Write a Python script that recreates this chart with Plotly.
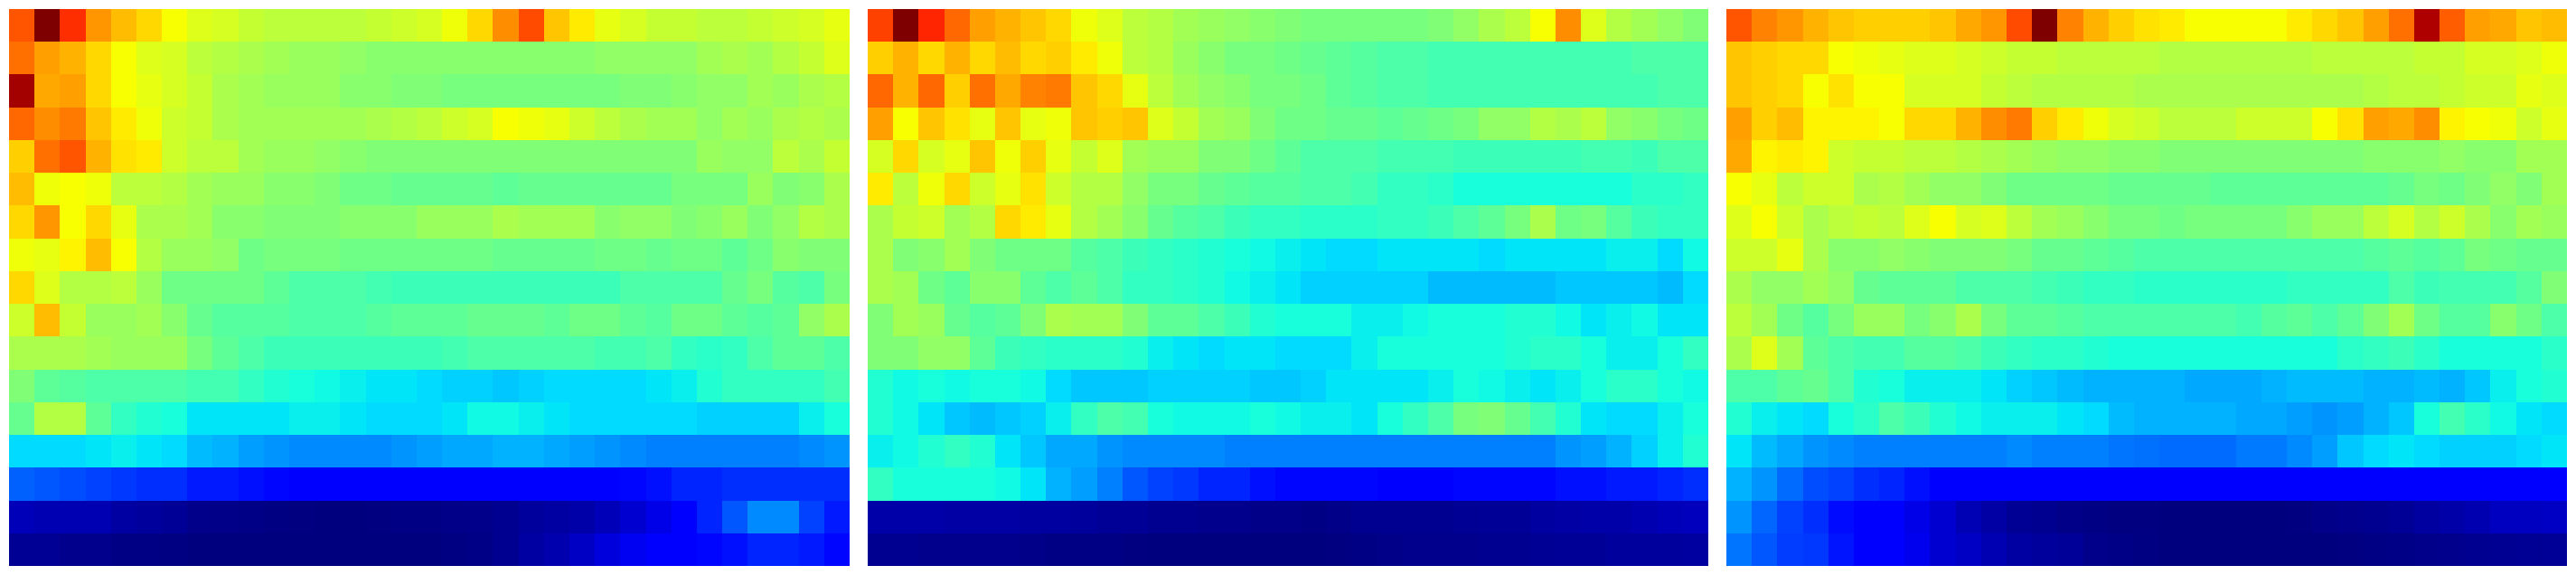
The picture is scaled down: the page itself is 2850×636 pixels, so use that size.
import plotly.graph_objects as go

panel_a = [
[82,100,86,75,71,68,64,61,60,58,57,57,57,57,58,59,60,63,68,76,83,70,66,62,60,58,58,57,57,58,59,60,62],
[79,74,72,68,64,61,60,57,56,55,54,53,53,52,51,51,51,51,51,51,51,51,51,52,52,52,52,54,55,54,56,58,61],
[97,73,74,68,64,62,60,58,55,54,53,53,53,51,51,50,50,49,49,49,49,49,49,49,50,50,51,52,52,54,53,55,56],
[80,76,78,70,66,63,59,58,55,54,54,54,54,54,55,56,57,59,60,64,63,62,59,57,55,54,54,52,54,53,55,56,55],
[69,79,82,72,67,66,59,57,57,54,53,53,52,51,50,50,50,50,50,50,50,50,50,50,50,50,50,53,52,52,57,55,58],
[71,63,64,63,57,57,56,54,53,53,51,51,50,48,48,47,47,47,47,46,47,47,47,47,47,47,49,49,49,53,50,51,55],
[68,75,64,68,62,55,55,54,51,51,50,50,50,51,51,51,53,53,53,55,54,54,54,51,52,52,50,51,53,50,52,56,55],
[63,62,65,71,64,56,53,53,52,48,49,49,49,48,48,48,48,48,48,47,47,47,47,48,48,47,48,48,46,48,51,50,50],
[68,61,56,56,57,53,48,48,48,48,46,44,44,44,43,42,42,42,42,42,42,42,42,42,44,44,44,44,47,49,45,44,49],
[59,71,58,53,53,54,51,47,45,45,45,44,44,44,45,46,46,46,47,47,47,46,48,48,46,45,48,48,46,45,46,52,55],
[55,55,55,54,53,53,53,49,46,44,42,42,42,42,42,42,42,43,44,44,44,44,44,43,43,44,41,40,41,44,46,46,44],
[50,46,45,44,44,44,44,43,43,41,39,38,37,36,35,35,34,33,33,32,33,34,34,34,34,35,36,39,41,41,41,41,43],
[47,56,56,46,41,39,38,35,35,35,35,36,36,35,34,34,34,35,37,37,36,35,34,34,34,34,34,33,33,33,33,36,38],
[34,34,34,35,36,35,34,31,30,28,27,26,26,26,26,27,28,29,29,30,30,29,28,27,26,25,25,25,25,25,25,26,27],
[22,21,20,19,18,17,17,15,15,14,13,12,12,12,12,12,12,12,12,12,12,12,12,12,13,14,16,16,17,17,17,17,17],
[5,4.5,4.5,4.5,3,2.5,2,1,.8,.6,.3,.2,0,0,.2,.4,.5,.8,1,1.5,2.5,3,3.5,5,7,9,11,16,21,26,26,19,15],
[1.8,1.8,1.2,1.2,.5,.5,.3,0,0,0,0,0,0,0,0,0,0,.3,.6,1.5,3,4,6,8,10,12,12,13,14,16,16,15,13],
]

panel_b = [
[84,100,87,80,74,72,70,68,63,61,57,56,54,53,52,51,50,49,49,49,49,49,50,52,55,57,64,76,61,56,54,52,50],
[69,72,68,72,68,71,68,69,66,63,57,56,53,51,49,49,48,47,46,45,44,44,43,43,43,43,43,43,43,43,44,44,44],
[80,72,80,69,79,73,77,78,70,68,62,57,54,52,51,49,49,48,46,45,44,44,43,43,43,43,43,43,43,43,43,44,44],
[74,64,70,67,62,70,62,63,70,69,70,61,58,54,53,50,48,48,47,47,46,47,48,49,52,52,56,55,57,52,51,49,48],
[60,68,60,62,70,63,69,62,58,61,54,53,53,50,50,48,46,44,44,44,43,43,43,42,42,42,42,42,43,43,42,44,44],
[66,57,63,68,59,62,67,59,56,56,52,49,49,47,46,45,45,44,44,43,41,41,40,38,38,38,38,38,38,38,40,40,41],
[55,58,59,54,56,68,66,62,56,54,51,47,45,44,42,41,41,40,40,40,41,41,42,44,46,49,55,48,49,45,42,41,41],
[55,50,51,54,50,48,48,48,45,44,42,41,40,39,38,37,36,35,34,34,35,35,35,35,34,35,35,35,35,36,36,34,37],
[55,54,48,46,51,51,46,44,46,44,41,41,40,39,37,36,35,33,33,33,33,33,31,31,31,31,31,32,32,32,32,31,34],
[50,54,53,47,45,46,50,55,54,54,50,46,46,44,42,39,38,38,38,36,36,37,38,38,38,39,39,37,35,36,37,35,35],
[50,50,52,52,46,42,41,40,40,40,39,36,35,34,35,35,34,34,34,36,38,38,38,38,38,39,40,40,38,36,36,38,41],
[39,37,38,37,38,38,37,34,32,32,32,33,33,33,33,32,32,33,35,35,35,35,36,38,37,36,35,36,38,40,40,38,37],
[39,37,35,32,31,32,33,36,41,44,43,38,37,37,37,38,37,36,36,35,38,41,44,49,50,47,43,39,35,34,34,36,38],
[36,37,39,41,39,35,32,29,29,27,26,26,26,26,25,25,25,25,25,25,25,25,25,25,25,25,25,27,28,30,33,36,39],
[41,38,38,38,38,37,35,30,28,25,21,19,18,16,16,14,13,13,13,13,12.5,12.5,12.5,13,13,13,13,14,14,15,15,16,17],
[3.5,3.5,3.5,3.2,3.2,3.2,2.8,2.8,2.5,2.1,2.1,1.5,1.5,1.1,1.1,.8,.8,.4,.8,1.5,1.5,1.5,1.5,1.8,2.1,2.1,2.8,3.2,3.5,3.5,4.2,4.9,5.3],
[1.5,1.5,1.1,1.1,1.1,1.1,.8,.4,.4,.4,.1,0,0,0,0,0,0,0,.2,.5,.8,1.1,1.1,1.1,1.5,1.5,1.8,2.1,2.1,2.5,2.5,2.5,2.8],
]

panel_c = [
[82,77,75,72,70,69,69,69,70,73,75,83,100,77,72,69,67,66,64,64,64,64,66,68,70,74,79,96,81,74,73,70,71],
[70,69,68,68,64,63,62,61,61,60,59,58,58,57,57,57,57,56,56,56,56,56,56,57,57,57,57,58,58,60,60,61,63],
[70,69,68,64,67,64,64,60,60,60,58,57,56,56,56,56,55,55,55,55,55,55,55,55,55,56,57,57,58,59,59,62,61],
[74,69,71,65,65,65,64,68,68,72,76,78,69,66,63,60,59,57,57,57,59,59,59,64,67,74,73,76,65,64,63,59,62],
[73,65,66,65,59,58,58,57,57,56,55,54,53,52,52,51,51,50,50,50,50,50,50,50,50,51,51,51,52,51,51,54,54],
[64,62,57,59,59,55,56,54,52,52,50,48,48,48,48,47,47,47,47,46,46,46,46,46,46,46,47,49,48,50,52,50,54],
[61,64,59,55,57,58,57,61,64,60,61,57,54,53,51,49,49,48,49,49,49,49,51,53,53,57,60,56,59,55,51,54,53],
[59,59,62,55,51,51,52,51,50,50,50,49,47,47,46,45,44,44,44,44,44,44,44,44,44,45,46,45,46,49,48,47,47],
[55,52,52,54,52,47,46,46,46,44,44,44,43,42,41,41,40,40,40,40,40,40,41,41,41,41,44,42,43,43,43,45,50],
[57,54,48,45,49,53,53,49,51,55,49,46,46,45,44,44,44,44,44,44,43,45,46,44,46,50,54,48,45,45,51,48,44],
[55,61,54,46,44,43,43,45,45,44,42,41,40,40,39,38,38,38,38,38,38,38,38,38,40,41,42,40,38,38,38,38,40],
[44,44,46,47,44,39,38,36,36,36,35,33,32,31,30,30,30,30,29,29,29,30,31,31,31,30,30,31,30,32,36,38,39],
[39,36,35,34,38,40,44,42,39,37,36,36,36,35,34,31,30,30,30,30,29,29,28,27,28,30,32,38,43,40,37,35,34],
[35,31,29,27,26,25,25,25,25,25,25,26,25,25,25,24,23.5,23,23,23,24.5,24.5,26,28,32,34,35,34,33,33,33,34,35],
[30,27,23,20,19,17,16,14,12.5,12,12,12,12,12,12,12,12,12,12,12,12,12,12,12,12,12,12,12,12,12,11.5,11.5,11.5],
[27,22.5,19,17,13.5,12,12,9,7,4.6,3.2,1.8,1.5,.8,.4,.2,.1,0,0,0,0,0,.2,.8,1.1,1.5,2.1,2.8,3.5,4.2,5.6,5.6,6],
[24,21,18.5,18,14.5,12,12,9.5,7,6,4.5,3,2.5,2.2,1,.6,.3,0,0,0,0,0,0,0,.2,.4,.6,1,1.2,1.5,1.7,1.9,2],
]

panels = [panel_a, panel_b, panel_c]
for p in panels:
    assert len(p) == 17
    for i, r in enumerate(p):
        assert len(r) == 33, (i, len(r))

jet_scale = [
    [0.0, "rgb(0,0,127)"], [0.11, "rgb(0,0,255)"], [0.125, "rgb(0,0,255)"],
    [0.34, "rgb(0,219,255)"], [0.35, "rgb(0,229,247)"], [0.375, "rgb(20,255,223)"],
    [0.64, "rgb(248,255,0)"], [0.65, "rgb(255,244,0)"], [0.66, "rgb(255,235,0)"],
    [0.89, "rgb(255,18,0)"], [0.91, "rgb(236,0,0)"], [1.0, "rgb(127,0,0)"],
]

W, H = 2850, 636
domains = [(10, 940), (960, 1890), (1910, 2840)]

fig = go.Figure()
for i, (p, (x0, x1)) in enumerate(zip(panels, domains), start=1):
    fig.add_trace(go.Heatmap(z=p, colorscale=jet_scale, zmin=0, zmax=100, showscale=False,
                             xaxis=f"x{i}", yaxis=f"y{i}", hoverinfo="skip"))
    fig.update_layout({
        f"xaxis{i}": dict(domain=[x0 / W, x1 / W], visible=False, range=[-0.5, 32.5], anchor=f"y{i}"),
        f"yaxis{i}": dict(domain=[1 - 626 / H, 1 - 10 / H], visible=False, range=[16.5, -0.5], anchor=f"x{i}"),
    })

fig.update_layout(width=W, height=H, margin=dict(l=0, r=0, t=0, b=0),
                  paper_bgcolor="white", plot_bgcolor="white", showlegend=False)
fig.write_html("out.html", config={"displayModeBar": False},
               post_script="document.body.style.margin='0';document.body.style.overflow='hidden';")
